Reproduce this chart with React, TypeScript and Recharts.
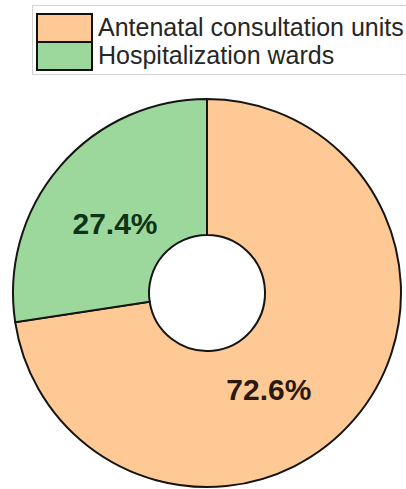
import React from 'react';
import { PieChart, Pie, Cell, Legend } from 'recharts';

const categories = ['Antenatal consultation units', 'Hospitalization wards'];
const shares = [72.6, 27.4];
const colors = ['#FFC995', '#9CD89B'];
const labelColors = ['#2a1a0c', '#0e3316'];
const labelAngleNudge = [-16.8, 3.8];

const data = categories.map((name, i) => ({ name, value: shares[i] }));

const RADIAN = Math.PI / 180;

const renderLabel = (props: any) => {
  const { cx, cy, midAngle, index, value } = props;
  const a = (midAngle + labelAngleNudge[index]) * RADIAN;
  const r = 115;
  const x = cx + r * Math.cos(-a);
  const y = cy + r * Math.sin(-a);
  return (
    <text
      x={x}
      y={y}
      fill={labelColors[index]}
      textAnchor="middle"
      dominantBaseline="central"
      fontFamily="Liberation Sans, Arial, sans-serif"
      fontWeight="bold"
      fontSize={30}
    >
      {value.toFixed(1)}%
    </text>
  );
};

const renderLegend = () => (
  <div
    style={{
      border: '1.5px solid #d4d4d4',
      width: 400,
      height: 70,
      boxSizing: 'border-box',
      padding: '7px 0 0 3px',
      fontFamily: 'Liberation Sans, Arial, sans-serif',
      fontSize: 25,
      color: '#262626',
    }}
  >
    {categories.map((c, i) => (
      <div key={c} style={{ display: 'flex', alignItems: 'center', height: 29, marginTop: i === 0 ? 0 : -1 }}>
        <div
          style={{
            width: 57,
            height: 30,
            boxSizing: 'border-box',
            background: colors[i],
            border: '2px solid #111',
            marginRight: 5,
          }}
        />
        <span style={{ lineHeight: '29px', whiteSpace: 'nowrap' }}>{c}</span>
      </div>
    ))}
  </div>
);

export default function App() {
  return (
    <div style={{ position: 'absolute', left: 0, top: 0, width: 406, height: 489, background: '#fff' }}>
      <PieChart width={406} height={489} margin={{ top: 0, right: 0, bottom: 0, left: 0 }}>
        <Legend
          content={renderLegend}
          wrapperStyle={{ position: 'absolute', top: 5, left: 32, width: 400 }}
        />
        <Pie
          data={data}
          dataKey="value"
          nameKey="name"
          cx={207}
          cy={293}
          innerRadius={58}
          outerRadius={194}
          startAngle={90}
          endAngle={-270}
          stroke="#151515"
          strokeWidth={2}
          label={renderLabel}
          labelLine={false}
          isAnimationActive={false}
        >
          {data.map((d, i) => (
            <Cell key={d.name} fill={colors[i]} />
          ))}
        </Pie>
      </PieChart>
    </div>
  );
}
